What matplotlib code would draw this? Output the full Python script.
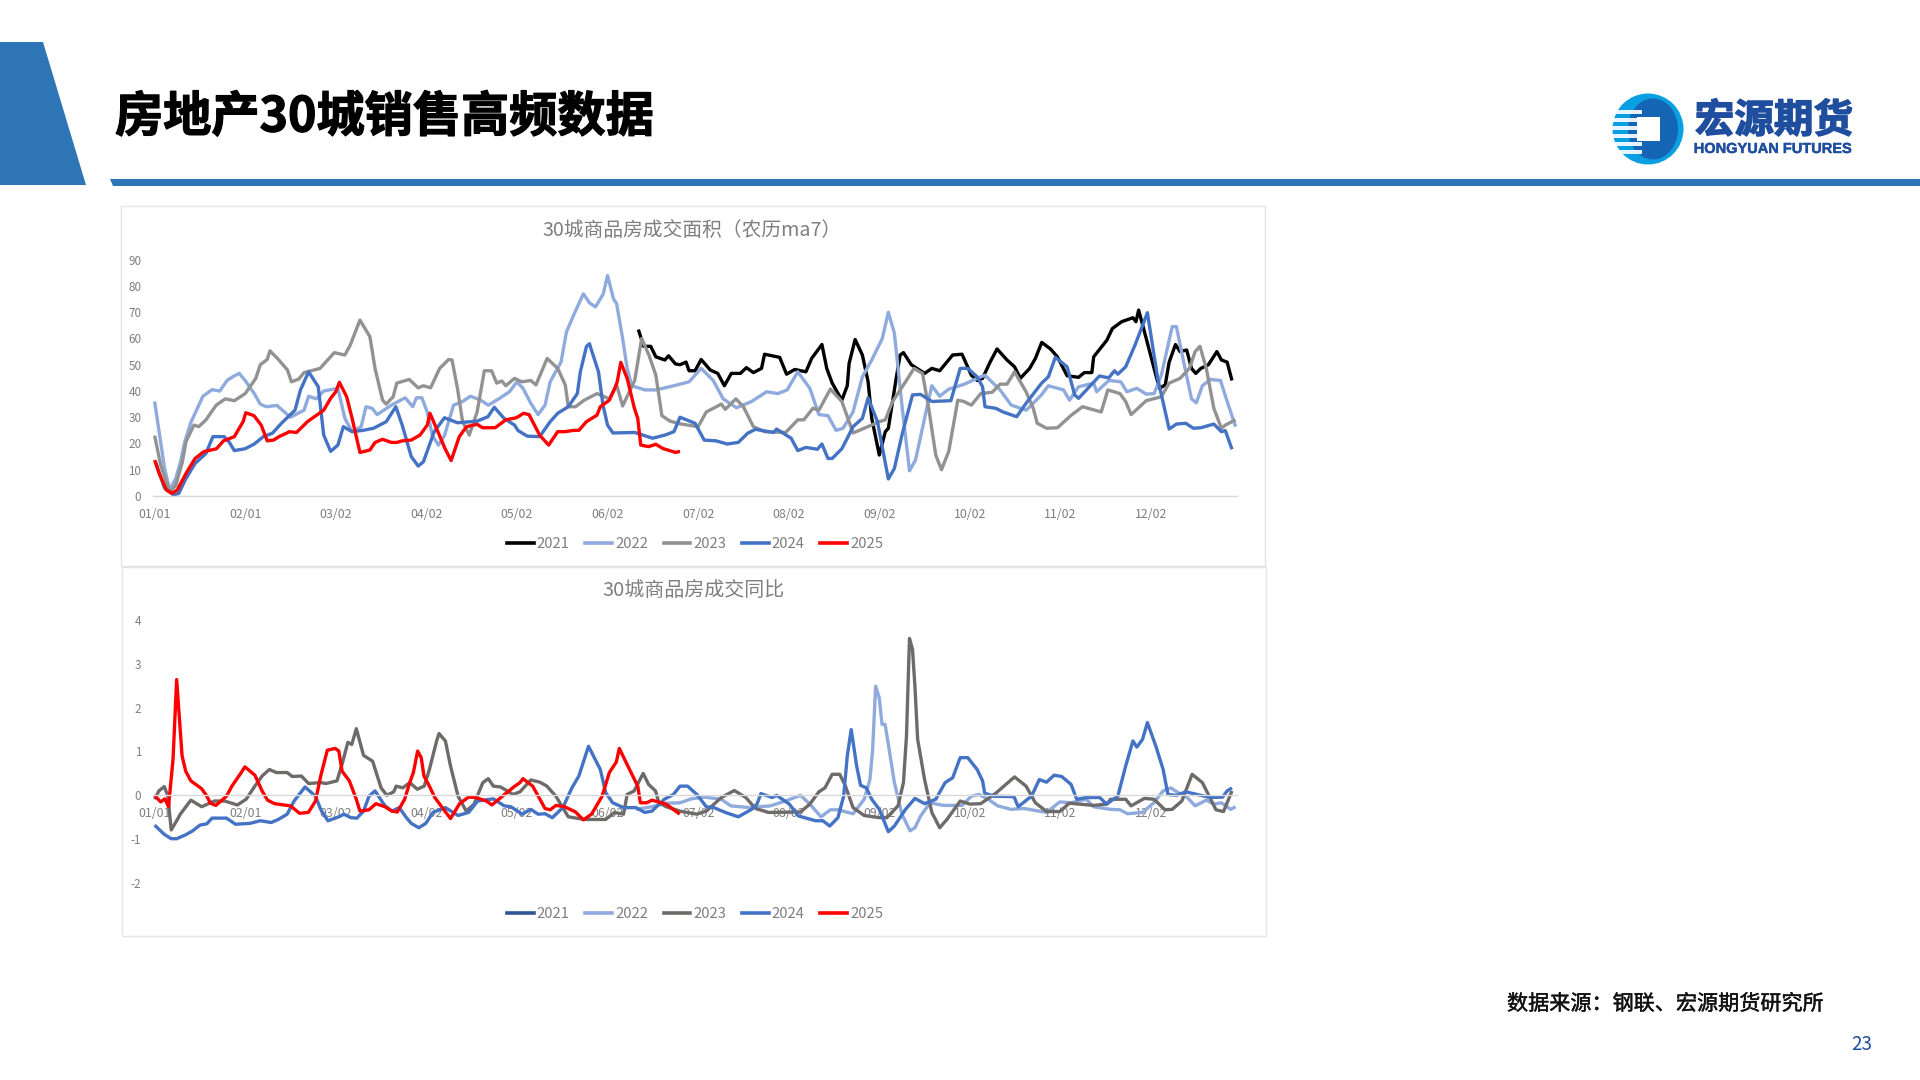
import matplotlib
matplotlib.use("Agg")
import matplotlib.pyplot as plt
import matplotlib.patheffects as pe
from matplotlib.patches import Polygon, Rectangle, Circle, Ellipse
from matplotlib.lines import Line2D

plt.rcParams['font.family'] = ['Noto Sans CJK SC', 'DejaVu Sans']
plt.rcParams['axes.unicode_minus'] = False

YEARS = ['2021', '2022', '2023', '2024', '2025']
MONTH_LABELS = ['01/01', '02/01', '03/02', '04/02', '05/02', '06/02', '07/02', '08/02', '09/02', '10/02', '11/02', '12/02']
MONTH_POS = [0, 30, 60, 90, 120, 150, 180, 210, 240, 270, 300, 330]

# ---- top chart: area (day, value) ----
a21_d = [160.2,162,164.3,166,169,170.2,172.5,174,176,177,179,181,184,186.5,188.7,191,194,196,198.3,201,202,207,209.3,212,215.7,217.6,221,222.6,224.4,227.6,229.4,230,232,234.4,236.3,237.5,240,242,243,245.6,246.9,248,250.6,255,257.4,260,264.3,267.4,270.5,272.4,274.2,276.7,279,282.3,284.8,286.7,289.8,291.7,293.8,296.7,299,302.2,306,307.9,310.4,311,315.4,317.2,320.3,324,325,325.9,328.4,331,332.8,334.7,336,338.1,339.6,341.8,343.4,344.8,346.5,349,351.8,353.3,355.2,356.8]
a21_v = [63.4,57,57,53,51.8,53.4,50.3,50,51,47.7,47.7,52,48,46.7,42,46.7,46.7,48.9,47,48.6,54,52.8,46.4,48.2,47.3,52.4,57.7,48.6,43,36.5,42,50.5,59.6,53.7,43.5,29.6,15.6,24.5,25.8,44.8,53.7,54.6,50,46.7,48.6,47.7,53.7,54,46,44,44.8,51,56,51.8,49.2,44.8,48.6,52.4,58.5,56,53,45.8,45.2,47,47,53,59.4,63.8,66.4,67.9,66.4,70.8,60,48.6,41,42.3,51,57.7,55,55.6,48.6,46.7,48.6,50,55,51.8,51,44]

a22_d = [0,1.5,3.3,5,7,8.6,10,12,14,16,19,21.6,24,26,28,30,33,35,37,40.5,43.5,45,49.5,51,53.6,56,60.7,63,65.4,68.4,70,72,73.7,78.4,83,85.5,86.7,88.5,90.3,92,94,96,99,102,104.6,108,110.5,114,117.5,120,122,124.6,127,129.3,131,134.6,136.4,139,142,144,146,148.6,150,152,153,155,156.5,158,162.4,166,172,177,181,185,188.3,192.7,197.7,202.7,206.4,209.5,213,217,220,223,225.7,228,231.3,234.4,237.5,241,243,245,247.5,250,252,255,257.4,260,263,268,272.4,275,280,283.7,288.7,293.7,296,301,303,306,311,312,316,320,322,325.3,328.4,331,333.4,337,338.4,341,343.4,345,347,349.6,353,354.5,358]
a22_v = [36,24.5,10.5,2.3,6.7,13,20.7,28,33,38,40.5,40,44,45.5,46.7,44,39,35,34,34.5,31.5,30,32.7,38,37,40,41,29.6,24.5,26.4,34,33.4,31,34.6,37.4,34,37.4,37.4,32,23,19.4,23,34.6,36,38,36.5,34.6,37,39.7,43.5,41,35.3,31,34.6,43.5,51,62.5,69.5,77,73.6,72,77,84,75,73.3,60,48.6,42,40.4,40.4,42,43.5,48.6,44,37,33.6,36,39.7,39,40.4,47.3,41,31,30.6,25,25.8,32,45.4,51.8,60,70,62,34.6,9.6,13.7,29.6,42,38,40.7,42.5,44.8,46,40.4,34.6,32.7,38.5,42,40.4,36.5,41.6,43,39.7,44,43.5,39.7,41,38.8,39,46,64.5,64.5,50,37,35.5,42,44.4,44,38.5,26.4]

a23_d = [0,2,5,7,9.2,10.4,13,14.6,17,20.4,23.4,26.4,30,33.5,35,37.3,38.2,41,44,45.3,47.7,49.5,54.8,59.5,63,64.8,68,71.3,73,75.5,76.7,79,80.2,84.3,87.3,89,91.4,94.4,97.4,98.5,100.3,102,104.2,106.8,109.2,111.6,113.3,115,116.3,119.2,121.6,124.6,126.3,130,133.5,136,137,139.4,142.3,146.5,150.6,153,155,159,161.3,163.7,166,168,170.7,174,180,182.7,187.7,189,192.5,195,198.3,202,209,213,215,218,220,223.8,227.6,230,231.3,235,240,242,244.4,248.7,251.5,254.3,256.2,258.7,260.6,263,266,268,270.5,273.6,277.4,280,282.3,284.8,288.6,291,292.3,295.4,299,303.6,307.3,313.5,315.7,319.7,321.6,323.4,328.4,333.4,336,339.6,342.7,344.6,346.2,348.3,350.8,353.3,354.6,358]
a23_v = [23,11.8,1.6,4,13,20.7,27,26.4,29,34.6,37,36.3,39,44.8,50,52,55.3,52,48,43.5,44.5,47,48.6,54.6,53.7,57.5,67,60.7,48.6,36.5,35,37.8,43,44.4,41.2,42,41.2,48.6,52,51.8,41,28.3,23.2,32,47.7,47.7,43,43.8,42,44.8,43.5,44,42.3,52.4,48.6,42.3,34,34,36.5,39,37,42.3,34.3,44,60,53.7,46,30.6,28.5,27.5,26.4,32,35,33,37,34,26.4,24.5,24.2,29,29,33.4,32.7,40.7,36,28.3,24,25.8,28.3,29,36,43.5,48.6,46.7,34.6,15.6,10,17,36.5,36,34.6,39,39.5,42.6,42.6,47.3,39.7,33.4,27.7,25.8,26,30.8,34,32,40.4,39,36,31,36.3,37.8,43,44.8,48.6,55,57,48.6,33.4,25.8,27,29]

a24_d = [0.3,3.3,6.3,8,10.4,13.4,17,19.3,23,24.6,26.4,30,33,36,39,42,46.5,48.3,51,54.2,56,58.3,60.7,62.5,65.4,69,72.5,76.7,79.9,82,85,87.3,89,92.6,96,100.3,106.8,110.4,112.5,115.7,119.2,120.4,123.4,127.5,131,133.5,137,140,141,143,144,147,148.5,150,151.8,159,164.9,169,172,174,179,182,186,189.6,193.3,196.4,199,205,206,210.8,213,215.7,219.5,221,223,224.4,227.6,229.4,231.3,234.4,236.3,239.4,243,245,247.5,251,253.7,257.4,263.7,266.8,269.3,272.4,274.2,275,278.6,281,285.5,288.6,293.7,296,298.3,302.2,304.7,306,312.9,316,317.9,319,321.6,324.7,328.8,332.2,336,338.4,341.5,344,346.5,350.8,353.3,354.6,356.8]
a24_v = [13,3,0.4,1,6.7,12.4,16.2,22.6,22.6,20.7,17.3,18,19.8,22.6,23.9,27.7,32.7,40.4,47.3,41.6,23.2,17,19.4,26.4,24.5,25,25.8,28.3,34,27,15,11.4,13,24.5,29.8,27.9,28.5,30.2,33.8,29.6,27,24.9,22.8,22.6,28.3,31.5,34,39,47.3,56.9,58,47.3,34.6,27,24,24.2,22,23.2,24.5,30,27.7,21.3,21,19.8,20.4,23.9,25.4,24.2,25.5,22,17.3,18.5,17.8,19.8,14.3,14.3,18,22,26.4,29.6,37.4,28.3,6.5,10.5,23.2,38.5,38.7,36,36.3,48.6,48.6,45.4,41.6,34,33.4,32,30.2,35.3,42.9,45.4,52.8,49.2,38.5,37.2,45.7,45,47.7,46.4,49.2,57.5,69.8,44.8,25.5,27.4,27.7,25.8,26,27.4,24.5,24.9,17.8]

a25_d = [0,1.5,3.9,5.7,7.5,10.4,13.4,16.3,20.5,22.8,26.4,29.3,30.2,32.9,35.3,37.3,39.4,41.2,44.7,47,50.6,56,58.3,60,61.2,63.6,65.4,68,71.3,73,75.5,78.4,80.2,82,85,87.9,90.3,91.2,93.8,96.2,98.2,100.9,103.3,106.8,108.6,112.8,116.3,119.8,122.2,124,127.5,130.5,133.5,135.8,138.8,140.5,143,146.5,147.6,150.6,152.4,153.2,154.4,156.5,158.9,160,161,163.6,166,168.3,172.5,174]
a25_v = [13.7,8.6,2.3,1,2.3,8.6,14.3,16.9,18,21,22.6,28.3,31.7,30.6,27,21,21.3,22.6,24.5,24.2,28.3,32.7,37.2,39.7,43.3,37.8,29.6,16.6,17.5,20.4,21.6,20.4,20.4,21,21.3,23.2,27,31.5,24.5,18,13.5,22.6,26.4,27.3,26,26,29,29.8,31.5,31,23.2,19.4,24.5,24.5,25,25,28.3,30.8,34,36.5,41,43.5,50.9,44.8,33.4,29.6,19.4,18.8,19.7,18.1,16.6,17]

# ---- bottom chart: year-on-year (day, value) ----
y21_d = []
y21_v = []

y22_d = [159.4,164.7,169.4,174,177.8,182,187.7,190.8,197,203.9,208.9,213.9,217,220.7,223.8,226.3,231.3,235,236.9,237.8,238.8,240,240.9,241.9,243.1,245,247.5,250.2,251.8,253.7,256.8,261.2,267.4,270.5,273,276.1,279.2,283.6,287.9,295.4,299.8,303.5,308.5,311,316.6,319.7,322.2,327.2,330.9,334,336.5,339,342,344.6,348.3,350.8,353.3,356.4,358]
y22_v = [-.32,-.26,-.18,-.17,-.08,-.04,-.09,-.24,-.28,-.24,-.13,0,-.2,-.49,-.33,-.33,-.42,-.09,.36,1.05,2.49,2.22,1.62,1.62,1.12,.29,-.43,-.81,-.74,-.47,-.17,-.23,-.23,-.02,.02,-.09,-.24,-.32,-.3,-.39,-.15,-.17,-.09,-.26,-.32,-.33,-.42,-.39,-.17,.1,.17,.06,-.05,-.24,-.11,-.2,-.17,-.32,-.26]

y23_d = [0,1.4,3.2,4.4,5.5,7.3,8.5,12,15.6,19.8,23.2,27.4,30.3,33.2,35.6,38,40.3,43.9,45.6,48.6,51,55,56.8,60.4,62.2,64,65.3,66.8,69.2,72.2,75,76.9,79.2,80,82.2,84.5,87,89.3,91,93.4,94.2,96.3,98,100.5,103.2,105.8,108.7,110.5,112.2,114.6,118.7,121,124.6,127.6,129.9,132.9,137,142.3,149.4,152.3,155.3,156.5,158.8,161.8,163.6,165.9,167,169.4,174,179.6,182.7,187.7,192,195.8,199,203.3,213.9,217,220,222,224.4,226.9,228.8,231.3,235,240,242.5,246.2,248,249,250,251,251.8,252.7,255,257.4,260,262.4,266.8,270,273.6,278.6,284.8,288.6,291.7,295.4,299.8,302.9,311,315.3,316.6,321.6,323.4,327.8,331,334.6,337,340.2,343.6,347,351.5,354,356.8]
y23_v = [-.09,.1,.2,-.02,-.79,-.58,-.43,-.11,-.26,-.13,-.13,-.22,-.09,.21,.44,.59,.52,.52,.43,.44,.27,.29,.27,.33,.74,1.21,1.16,1.52,.91,.78,.17,0,.08,.21,.17,.29,.14,.21,.59,1.24,1.41,1.24,.67,-.02,-.36,-.2,.29,.38,.21,.19,.02,.08,.35,.3,.21,-.02,-.49,-.55,-.55,-.39,-.43,.02,.1,.5,.25,.1,-.17,-.26,-.36,-.43,-.36,-.05,.11,-.05,-.3,-.39,-.38,-.2,.08,.17,.48,.48,.21,-.28,-.46,-.51,-.51,-.24,.29,1.35,3.58,3.33,2.49,1.28,.36,-.39,-.74,-.55,-.13,-.2,-.19,.05,.42,.21,-.17,-.37,-.37,-.18,-.23,-.2,-.09,-.09,-.24,-.07,-.09,-.33,-.32,-.13,.48,.29,-.33,-.37,.1]

y24_d = [0,3.2,5.5,7.3,10.3,12.6,15,17.3,19,23.8,26.8,31.5,35,38.6,41,43.9,46.2,49.8,53.3,55,57.4,61,62.7,65,67,69.2,71,73,76.3,78.6,81,83.4,85,87.5,89.8,92.2,96.3,100.5,104,107,112.2,115.8,118,121.7,124.6,127,129.3,131.7,135.2,138.2,140.5,143.7,147.6,149.4,151.7,155.3,159.4,162.3,164.7,168.8,171.8,174,176.5,179.6,182.7,185.2,189,193.3,197.7,199.5,200.8,204.5,206,210.2,213.2,218.9,221.3,223.6,226.3,228.2,229.4,230.7,232.5,233.8,235.7,237.5,240,243,245,248.7,251.8,255,258.7,261.8,264.3,266.8,269.3,272.4,274.2,274.9,278,284.6,286,290.4,293,295.4,297.9,300.4,303.5,305.4,308.6,313,315.3,319,321.6,324,325.3,327.2,328.8,331.6,334,335.6,338.4,341.5,345.3,349.6,353.7,355.2,356.8]
y24_v = [-.68,-.89,-.99,-.99,-.9,-.81,-.68,-.65,-.52,-.52,-.66,-.64,-.58,-.62,-.55,-.43,-.13,.19,-.02,-.32,-.58,-.49,-.43,-.51,-.52,-.36,-.02,.1,-.24,-.36,-.28,-.51,-.64,-.74,-.64,-.39,-.28,-.46,-.39,-.13,-.08,-.24,-.26,-.43,-.32,-.43,-.42,-.51,-.28,.17,.44,1.12,.59,.06,-.17,-.28,-.28,-.39,-.36,-.09,.02,.21,.21,.02,-.26,-.28,-.39,-.49,-.32,-.2,.04,-.05,0,-.2,-.47,-.58,-.58,-.7,-.51,-.02,.9,1.5,.67,.23,.17,-.09,-.32,-.83,-.7,-.32,-.07,-.19,-.09,.29,.4,.86,.86,.59,.33,.05,-.02,-.03,-.26,-.02,.36,.3,.46,.43,.25,-.09,-.05,-.05,-.2,-.02,.67,1.24,1.1,1.28,1.66,1.12,.59,.02,0,.08,.02,-.05,-.04,.1,.17]

y25_d = [0,2,3.4,4.6,6.1,7.3,9.1,10.3,12,15.6,17.3,18.5,20.3,23.8,25.6,28.5,29.9,33.2,35.6,37.4,39.7,45,48,50.9,53.3,55,57.2,59.8,61,62.1,64.5,66.8,68,71,73.3,76.3,78.6,80.4,82.8,84.5,85.7,87.1,88.3,89.2,91,92.8,95.7,98,101,104,106.3,109.9,111.7,115.2,119.3,121,122,125.2,129.3,131,132.9,135.8,139.4,142,144.7,148.2,150.6,152.9,153.9,157,160,160.9,163,164.7,169.4,173.9]
y25_v = [0,-.15,-.08,-.26,.82,2.64,.9,.55,.33,.15,-.02,-.18,-.23,-.02,.21,.5,.65,.46,.1,-.11,-.19,-.24,-.41,-.39,-.13,.44,1.03,1.07,1.01,.55,.33,-.09,-.36,-.33,-.19,-.26,-.36,-.38,-.09,.29,.52,1.01,.86,.44,.21,-.05,-.32,-.53,-.19,-.04,-.05,-.13,-.22,-.02,.21,.29,.38,.21,-.3,-.33,-.23,-.26,-.38,-.56,-.43,-.02,.52,.76,1.07,.63,.21,-.17,-.17,-.11,-.2,-.43]

TOP_COLORS = ['#000000', '#8FAADC', '#929292', '#4472C4', '#FF0000']
BOT_COLORS = ['#2F5597', '#8FAADC', '#6E6A6A', '#4472C4', '#FF0000']
TEXT_GRAY = '#7F7F7F'
BLUE = '#2E75B6'
W, H = 1920, 1080
fig = plt.figure(figsize=(19.2, 10.8), dpi=100, facecolor='white')


def heavy(width, color):
    return [pe.withStroke(linewidth=width, foreground=color)]


# page overlay in pixel coordinates
bg = fig.add_axes([0, 0, 1, 1], zorder=0)
bg.set_xlim(0, W); bg.set_ylim(H, 0); bg.axis('off')
bg.add_patch(Polygon([(0, 42), (43, 42), (86, 185), (0, 185)], fc=BLUE, ec='none'))
bg.add_patch(Polygon([(110, 179), (W, 179), (W, 186), (113, 186)], fc=BLUE, ec='none'))
bg.text(115, 117, '房地产30城销售高频数据', fontsize=34.7, fontweight='bold', color='black', ha='left', va='center',
        path_effects=heavy(0.9, 'black'))
for (x0, y0, x1, y1) in [(120.5, 206, 1265, 566), (122, 567, 1266, 936)]:
    bg.add_patch(Rectangle((x0, y0), x1 - x0, y1 - y0, fc='white', ec='#E4E4E4', lw=1))
bg.text(1507, 1004, '数据来源：钢联、宏源期货研究所', fontsize=15.2, fontweight='medium', color='#111111', ha='left', va='center',
        path_effects=heavy(0.3, '#111111'))
bg.text(1862, 1044, '23', fontsize=13.5, color='#1F4E9E', ha='center', va='center')

# logo
bg.add_patch(Circle((1648, 129), 35.5, fc='#0A9FE0', ec='none'))
bg.add_patch(Ellipse((1653, 129), 50, 61, fc='#1565B5', ec='none'))
for yy in (110, 118, 126, 134, 142, 150):
    bg.add_patch(Rectangle((1612, yy), 30, 4.2, fc='white', ec='none', alpha=.9))
bg.add_patch(Rectangle((1637, 117), 23, 24, fc='white', ec='none'))
bg.text(1774, 121, '宏源期货', fontsize=28.5, fontweight='black', color='#1F4E9E', ha='center', va='center',
        path_effects=heavy(1.0, '#1F4E9E'))
bg.text(1773, 149, 'HONGYUAN FUTURES', fontsize=10.5, fontweight='bold', family='Liberation Sans', color='#1F4E9E', ha='center', va='center',
        path_effects=heavy(0.3, '#1F4E9E'))


def make_axes(left, right, top, bottom):
    return fig.add_axes([left / W, 1 - bottom / H, (right - left) / W, (bottom - top) / H], zorder=2, facecolor='none')


def style(ax, ylim, yticks):
    ax.set_xlim(-0.5, 358.5)
    ax.set_ylim(*ylim)
    ax.set_xticks(MONTH_POS, MONTH_LABELS)
    ax.set_yticks(yticks)
    ax.tick_params(axis='both', length=0, labelcolor=TEXT_GRAY)
    ax.tick_params(axis='x', pad=8.6, labelsize=8.9)
    ax.tick_params(axis='y', pad=8.5, labelsize=8.4)
    for s in ('top', 'left', 'right'):
        ax.spines[s].set_visible(False)
    ax.spines['bottom'].set_color('#D9D9D9')
    ax.spines['bottom'].set_linewidth(1)
    ax.spines['bottom'].set_position(('data', 0))


def legend(colors, y):
    handles = [Line2D([0], [0], color=c, lw=2.6) for c in colors]
    fig.legend(handles, YEARS, loc='center', bbox_to_anchor=(695 / W, 1 - y / H), ncol=5, frameon=False,
               fontsize=10.7, labelcolor=TEXT_GRAY, handlelength=1.8, handletextpad=0.2, columnspacing=1.05)


ax1 = make_axes(153.1, 1237.1, 259.7, 496)
for d, v, c in zip((a21_d, a22_d, a23_d, a24_d, a25_d), (a21_v, a22_v, a23_v, a24_v, a25_v), TOP_COLORS):
    ax1.plot(d, v, color=c, lw=2.4, solid_joinstyle='round', solid_capstyle='butt', clip_on=False)
style(ax1, (0, 90), list(range(0, 100, 10)))
bg.text(692, 230, '30城商品房成交面积（农历ma7）', fontsize=14.2, color=TEXT_GRAY, ha='center', va='center')
legend(TOP_COLORS, 544.5)

ax2 = make_axes(153.1, 1237.1, 620, 883)
for d, v, c in zip((y21_d, y22_d, y23_d, y24_d, y25_d), (y21_v, y22_v, y23_v, y24_v, y25_v), BOT_COLORS):
    ax2.plot(d, v, color=c, lw=2.4, solid_joinstyle='round', solid_capstyle='butt', clip_on=False)
style(ax2, (-2, 4), list(range(-2, 5)))
bg.text(694, 590, '30城商品房成交同比', fontsize=14.4, color=TEXT_GRAY, ha='center', va='center')
legend(BOT_COLORS, 914.5)

fig.savefig('out.png', dpi=100, facecolor='white')
